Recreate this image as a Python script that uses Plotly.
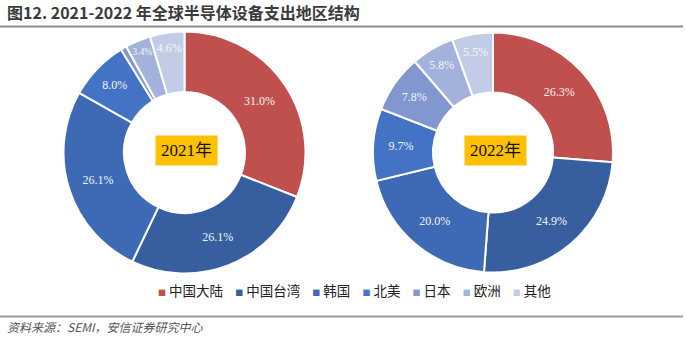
import plotly.graph_objects as go

regions = ["中国大陆", "中国台湾", "韩国", "北美", "日本", "欧洲", "其他"]
share_2021 = [31.0, 26.1, 26.1, 8.0, 0.8, 3.4, 4.6]
share_2022 = [26.3, 24.9, 20.0, 9.7, 7.8, 5.8, 5.5]
labels_2021 = ["31.0%", "26.1%", "26.1%", "8.0%", "", "3.4%", "4.6%"]
labels_2022 = ["26.3%", "24.9%", "20.0%", "9.7%", "7.8%", "5.8%", "5.5%"]
colors = ["#C0504D", "#375FA0", "#3D69B5", "#4472C4", "#8296CF", "#A3B2DC", "#C3CCE7"]

W, H = 686, 341

fig = go.Figure()

def add_pie(vals, texts, cx, cy, r):
    fig.add_trace(go.Pie(
        labels=regions, values=vals, text=texts,
        textinfo="text", textposition="inside",
        insidetextorientation="horizontal",
        sort=False, direction="clockwise", rotation=0,
        hole=0.5,
        marker=dict(colors=colors, line=dict(color="white", width=2)),
        textfont=dict(family="Liberation Serif", size=12, color="#F4F4F4"),
        domain=dict(x=[(cx - r) / W, (cx + r) / W], y=[(H - cy - r) / H, (H - cy + r) / H]),
        showlegend=False,
        hoverinfo="label+percent",
    ))

add_pie(share_2021, labels_2021, 184.5, 152.5, 121)
add_pie(share_2022, labels_2022, 493, 152.5, 120)

annotations = [
    dict(text="<b>图12. 2021-2022 年全球半导体设备支出地区结构</b>", x=5 / W, y=1 - 12 / H,
         xref="paper", yref="paper", xanchor="left", yanchor="middle", showarrow=False,
         font=dict(family="Noto Sans CJK SC", size=16, color="#3A3A3A")),
    dict(text="<i>资料来源：SEMI，安信证券研究中心</i>", x=5 / W, y=1 - 326 / H,
         xref="paper", yref="paper", xanchor="left", yanchor="middle", showarrow=False,
         font=dict(family="Noto Sans CJK SC", size=12, color="#555555")),
]
for yr, cx in (("2021年", 186.5), ("2022年", 495)):
    annotations.append(dict(
        text=yr, x=cx / W, y=1 - 150 / H, xref="paper", yref="paper",
        xanchor="center", yanchor="middle", showarrow=False,
        bgcolor="#FFC000", borderpad=5,
        font=dict(family="Liberation Serif, Noto Sans CJK SC", size=17, color="#111111"),
    ))

# compact legend built from the series names and colours
legend_parts = [
    f'<span style="color:{c};font-size:8px">■</span> {name}'
    for name, c in zip(regions, colors)
]
annotations.append(dict(
    text="&nbsp;&nbsp;&nbsp;&nbsp;".join(legend_parts),
    x=354 / W, y=1 - 290 / H, xref="paper", yref="paper",
    xanchor="center", yanchor="middle", showarrow=False,
    font=dict(family="Noto Sans CJK SC", size=13.5, color="#222222"),
))

fig.update_layout(
    width=W, height=H,
    margin=dict(l=0, r=0, t=0, b=0),
    paper_bgcolor="white", plot_bgcolor="white",
    annotations=annotations,
    shapes=[
        dict(type="line", xref="paper", yref="paper", x0=0, x1=683 / W, y0=1 - 26.5 / H, y1=1 - 26.5 / H,
             line=dict(color="#8C8C8C", width=2)),
        dict(type="line", xref="paper", yref="paper", x0=0, x1=683 / W, y0=1 - 316.5 / H, y1=1 - 316.5 / H,
             line=dict(color="#9A9A9A", width=2)),
    ],
)

fig.write_html("out.html")
